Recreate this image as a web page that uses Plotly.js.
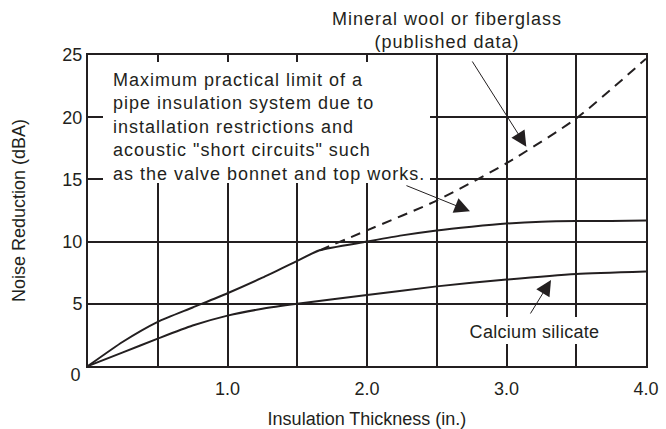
<!DOCTYPE html>
<html><head><meta charset="utf-8">
<script src="https://cdn.plot.ly/plotly-3.0.1.min.js"></script>
<style>
html,body{margin:0;padding:0;background:#fff;}
.annotation-text{letter-spacing:1px;}
g.annotation[data-index="2"] .annotation-text{letter-spacing:0.3px;}
g.annotation[data-index="3"] .annotation-text{letter-spacing:0px;}
</style>
</head><body><div id="chart" style="width:666px;height:429px;"></div>
<script>
// Upper solid curve (mineral wool / fiberglass, practical limit)
const practicalX = [0, 0.25, 0.5, 0.75, 1.0, 1.25, 1.5, 1.66, 2.0, 2.25, 2.5, 2.75, 3.0, 3.25, 3.5, 3.75, 4.0];
const practicalY = [0, 1.95, 3.55, 4.7, 5.85, 7.1, 8.45, 9.3, 10.0, 10.5, 10.9, 11.2, 11.45, 11.6, 11.65, 11.65, 11.7];
// Dashed curve (mineral wool or fiberglass, published data)
const publishedX = [1.66, 2.0, 2.5, 3.0, 3.5, 4.0];
const publishedY = [9.3, 10.9, 13.3, 16.3, 19.9, 24.7];
// Lower curve (calcium silicate)
const calciumX = [0, 0.25, 0.5, 0.75, 1.0, 1.25, 1.5, 2.0, 2.5, 3.0, 3.5, 4.0];
const calciumY = [0, 1.1, 2.2, 3.25, 4.05, 4.6, 5.0, 5.7, 6.4, 6.95, 7.4, 7.6];
// Tick labels
const xTickVals = [0.5, 1.0, 1.5, 2.0, 2.5, 3.0, 3.5, 4.0];
const xTickText = ['', '1.0', '', '2.0', '', '3.0', '', '4.0'];
const yTickVals = [5, 10, 15, 20, 25];
const yTickText = ['5', '10', '15', '20', '25'];

const INK = '#231f20';
const FONT = '"Liberation Sans", Arial, Helvetica, sans-serif';

// plot area in pixels (for placing text in paper coordinates)
const L = 88, R = 646, T = 55, B = 366;
const px = v => (v - L) / (R - L);
const py = v => (B - v) / (B - T);

const lineStyle = {color: INK, width: 2, shape: 'spline', smoothing: 0.6};
const traces = [
  {x: practicalX, y: practicalY, mode: 'lines', line: lineStyle, hoverinfo: 'skip', name: 'Practical limit'},
  {x: publishedX, y: publishedY, mode: 'lines', line: Object.assign({}, lineStyle, {dash: '10px,7px'}), hoverinfo: 'skip', name: 'Mineral wool or fiberglass'},
  {x: calciumX, y: calciumY, mode: 'lines', line: lineStyle, hoverinfo: 'skip', name: 'Calcium silicate'}
];

const arrowBase = {text: '', showarrow: true, arrowhead: 2, arrowsize: 3.1, arrowwidth: 1, arrowcolor: INK,
  xref: 'x', yref: 'y', axref: 'x', ayref: 'y'};

const layout = {
  width: 666, height: 429,
  margin: {l: L, r: 666 - R, t: T, b: 429 - B},
  paper_bgcolor: '#fff', plot_bgcolor: '#fff',
  showlegend: false,
  font: {family: FONT, size: 18, color: INK},
  xaxis: {
    range: [0, 4], tickvals: xTickVals, ticktext: xTickText, ticks: '', ticklabelstandoff: 5,
    showgrid: true, gridcolor: INK, gridwidth: 2, zeroline: false,
    showline: true, linecolor: INK, linewidth: 2, mirror: true,
    tickfont: {family: FONT, size: 18, color: INK},
    title: {text: 'Insulation Thickness (in.)', font: {family: FONT, size: 18, color: INK}, standoff: 23},
    fixedrange: true
  },
  yaxis: {
    range: [0, 25], tickvals: yTickVals, ticktext: yTickText, ticks: '',
    showgrid: true, gridcolor: INK, gridwidth: 2, zeroline: false,
    showline: true, linecolor: INK, linewidth: 2, mirror: true,
    tickfont: {family: FONT, size: 18, color: INK},
    title: {text: 'Noise Reduction (dBA)', font: {family: FONT, size: 18, color: INK}, standoff: 32},
    fixedrange: true
  },
  // white masks that break the grid behind the text blocks
  shapes: [
    {type: 'rect', xref: 'paper', yref: 'paper', x0: px(103), x1: px(430), y0: py(183), y1: py(62),
     fillcolor: '#fff', line: {width: 0}, layer: 'above'},
    {type: 'rect', xref: 'paper', yref: 'paper', x0: px(466), x1: px(603), y0: py(344), y1: py(317),
     fillcolor: '#fff', line: {width: 0}, layer: 'above'}
  ],
  annotations: [
    {text: 'Maximum practical limit of a<br>pipe insulation system due to<br>installation restrictions and<br>acoustic "short circuits" such<br>as the valve bonnet and top works.',
     xref: 'paper', yref: 'paper', x: px(111), y: py(68), xanchor: 'left', yanchor: 'top',
     align: 'left', showarrow: false, font: {family: FONT, size: 18, color: INK}},
    {text: 'Mineral wool or fiberglass<br>(published data)',
     xref: 'paper', yref: 'paper', x: px(446.5), y: py(30.5), xanchor: 'center', yanchor: 'middle',
     align: 'center', showarrow: false, font: {family: FONT, size: 18, color: INK}},
    {text: 'Calcium silicate',
     xref: 'paper', yref: 'paper', x: px(534.5), y: py(332), xanchor: 'center', yanchor: 'middle',
     showarrow: false, font: {family: FONT, size: 18, color: INK}},
    {text: '0', xref: 'paper', yref: 'y', x: 0, y: 0, xanchor: 'right', yanchor: 'middle', xshift: -5, yshift: -9,
     showarrow: false, font: {family: FONT, size: 18, color: INK}},
    Object.assign({}, arrowBase, {ax: 2.748, ay: 24.6, x: 3.142, y: 17.63}),
    Object.assign({}, arrowBase, {ax: 2.272, ay: 14.55, x: 2.738, y: 12.44}),
    Object.assign({}, arrowBase, {ax: 3.165, ay: 4.1, x: 3.319, y: 6.91})
  ]
};

Plotly.newPlot('chart', traces, layout, {staticPlot: true, displayModeBar: false});
</script></body></html>
